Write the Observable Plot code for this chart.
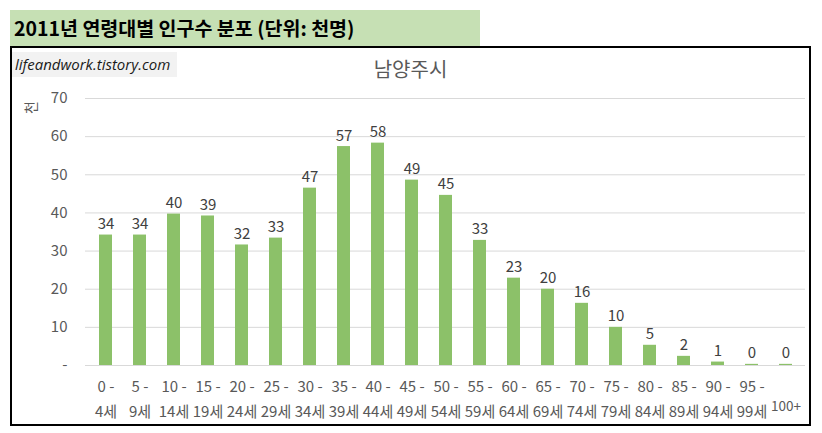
<!DOCTYPE html>
<html>
<head>
<meta charset="utf-8">
<script src="https://cdn.jsdelivr.net/npm/d3@7"></script>
<script src="https://cdn.jsdelivr.net/npm/@observablehq/plot@0.6"></script>
<style>
  html, body { margin: 0; padding: 0; background: #fff; }
  body { width: 822px; height: 433px; position: relative; overflow: hidden;
         font-family: "Noto Sans CJK KR", "Noto Sans", sans-serif; }
  #title { position: absolute; left: 10px; top: 10px; width: 470px; height: 37px;
           background: #c6e0b4; box-sizing: border-box; padding-left: 4px;
           font-weight: bold; font-size: 19.5px; line-height: 36px; color: #000; }
  #box { position: absolute; left: 10px; top: 46px; width: 801px; height: 380px;
         box-sizing: border-box; border: 2px solid #000; background: #fff; }
  #credit { position: absolute; left: 0px; top: 4px; width: 165px; height: 25px;
            background: #f2f2f2; font-style: italic; font-size: 15px; line-height: 25px;
            padding-left: 3px; box-sizing: border-box; color: #1a1a1a;
            font-family: "Open Sans", "Noto Sans", sans-serif; }
  #subtitle { position: absolute; left: 0; width: 797px; top: 8px; text-align: center;
              font-size: 20px; color: #595959; line-height: 26px; }
  #chart { position: absolute; left: 0; top: 0; }
</style>
</head>
<body>
<div id="title">2011년 연령대별 인구수 분포 (단위: 천명)</div>
<div id="box">
  <div id="chart"></div>
  <div id="credit">lifeandwork.tistory.com</div>
  <div id="subtitle">남양주시</div>
</div>
<script>
const categories = ["0-4","5-9","10-14","15-19","20-24","25-29","30-34","35-39","40-44","45-49",
  "50-54","55-59","60-64","65-69","70-74","75-79","80-84","85-89","90-94","95-99","100+"];
const population = [34.2, 34.2, 39.7, 39.2, 31.6, 33.4, 46.5, 57.4, 58.3, 48.6,
  44.6, 32.8, 22.9, 20.0, 16.3, 10.0, 5.3, 2.4, 0.9, 0.3, 0.3];
const tickLine1 = ["0 -","5 -","10 -","15 -","20 -","25 -","30 -","35 -","40 -","45 -",
  "50 -","55 -","60 -","65 -","70 -","75 -","80 -","85 -","90 -","95 -",""];
const tickLine2 = ["4세","9세","14세","19세","24세","29세","34세","39세","44세","49세",
  "54세","59세","64세","69세","74세","79세","84세","89세","94세","99세","100+"];
const yTicks = [0, 10, 20, 30, 40, 50, 60, 70];
const yUnit = "천";

const rows = categories.map((c, i) => ({cat: c, value: population[i], l1: tickLine1[i], l2: tickLine2[i], i}));

const chart = Plot.plot({
  width: 797,
  height: 376,
  marginLeft: 73,
  marginRight: 4,
  marginTop: 50,
  marginBottom: 59,
  style: {fontFamily: '"Noto Sans CJK KR", "Noto Sans", sans-serif', fontSize: "14px", color: "#595959", background: "transparent", overflow: "visible"},
  x: {domain: categories, paddingInner: 0.62, paddingOuter: 0.31, axis: null},
  y: {domain: [0, 70], axis: null},
  marks: [
    Plot.gridY(yTicks, {stroke: "#d9d9d9", strokeOpacity: 1, strokeWidth: 1}),
    Plot.axisY(yTicks, {tickSize: 0, tickPadding: 7, fontSize: 15, fill: "#595959", label: null,
      tickFormat: d => d === 0 ? "-" : String(d), dx: -11}),
    Plot.text([yUnit], {frameAnchor: "top-left", textAnchor: "middle", lineAnchor: "middle", dx: -54, dy: 9, rotate: -90, fontSize: 14, fill: "#595959"}),
    Plot.barY(rows, {x: "cat", y: "value", fill: "#8cc169"}),
    Plot.ruleY([0], {stroke: "#d9d9d9", strokeWidth: 1}),
    Plot.text(rows, {x: "cat", y: "value", text: d => String(Math.round(d.value)), dy: -6, lineAnchor: "bottom", fontSize: 15, fill: "#404040"}),
    Plot.text(rows, {x: "cat", y: 0, text: "l1", dy: 26, lineAnchor: "bottom", fontSize: 15, fill: "#595959"}),
    Plot.text(rows, {filter: d => d.i < 20, x: "cat", y: 0, text: "l2", dy: 51, lineAnchor: "bottom", fontSize: 15, fill: "#595959"}),
    Plot.text(rows, {filter: d => d.i === 20, x: "cat", y: 0, text: "l2", dy: 45, lineAnchor: "bottom", fontSize: 13.5, fill: "#595959"})
  ]
});
document.getElementById("chart").appendChild(chart);
</script>
</body>
</html>
